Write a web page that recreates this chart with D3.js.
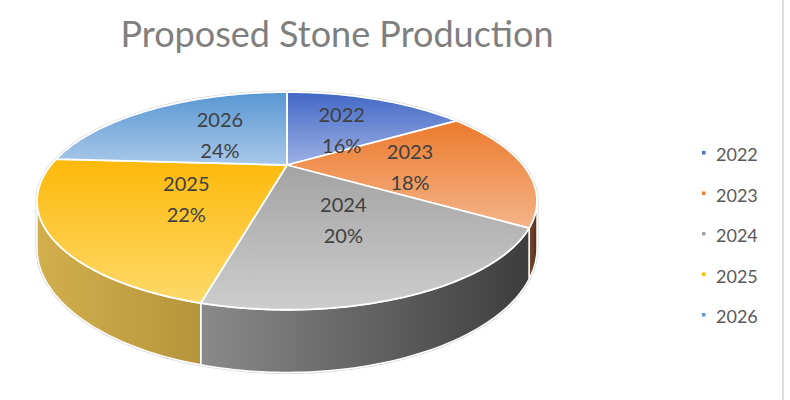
<!DOCTYPE html>
<html>
<head>
<meta charset="utf-8">
<script src="https://cdn.jsdelivr.net/npm/d3@7"></script>
<style>
  html, body { margin: 0; padding: 0; background: #fff; }
  svg { display: block; }
</style>
</head>
<body>
<div id="chart"></div>
<script>
// data
var years = ["2022", "2023", "2024", "2025", "2026"];
var shares = [16, 18, 20, 22, 24];
var chartTitle = "Proposed Stone Production";

// palette (top face gradient from / to, side colour from / to, legend marker)
var topFrom  = ["#4268c6", "#ec7a2c", "#a3a3a3", "#fdb90a", "#5897d3"];
var topTo    = ["#9db0e3", "#f4b489", "#cdcdcd", "#fdd96a", "#a9c8e9"];
var sideFrom = ["#3b5aa8", "#7a4a2c", "#8a8a8a", "#d2ae4c", "#4d82b5"];
var sideTo   = ["#2f4a8c", "#4e3020", "#3d3d3d", "#b6953b", "#3f6f9c"];
var marker   = ["#4472c4", "#ed7d31", "#a5a5a5", "#ffc000", "#5b9bd5"];

var W = 790, H = 400;

var svg = d3.select("#chart").append("svg")
    .attr("width", W)
    .attr("height", H);

var defs = svg.append("defs");

// right frame line
svg.append("line")
    .attr("x1", 783).attr("x2", 783)
    .attr("y1", 0).attr("y2", H)
    .attr("stroke", "#dcdcdc")
    .attr("stroke-width", 2);

// title
svg.append("text")
    .attr("x", 337)
    .attr("y", 47)
    .attr("text-anchor", "middle")
    .style("font-family", "Lato, 'Open Sans', sans-serif")
    .style("font-size", "36px")
    .style("fill", "#7f7f7f")
    .text(chartTitle);

// 3d projection of the pie disc
var cx = 287, cy = 165, rx = 236, ry = 97, persp = 0.33, depth = 42;
var xs = d3.scaleLinear().domain([-1, 1]).range([cx - rx, cx + rx]);
var ys = d3.scaleLinear().domain([-1, 1]).range([cy + ry, cy - ry]);

function proj(a, r, z) {
  var u = r * Math.sin(a), v = r * Math.cos(a), s = 1 / (1 + persp * v);
  return [xs(u * s), ys(v * s) + depth * s * z];
}

function arcPts(a0, a1, z) {
  var n = Math.max(2, Math.ceil(Math.abs(a1 - a0) / 0.02));
  return d3.range(n + 1).map(function(i) { return proj(a0 + (a1 - a0) * i / n, 1, z); });
}

var line = d3.line();

var pie = d3.pie().sort(null).value(function(d) { return d; });
var arcs = pie(shares);
var total = d3.sum(shares);
var pct = d3.format(".0%");

// visible part of the rim (front side)
var visA0 = Math.acos(-persp), visA1 = 2 * Math.PI - Math.acos(-persp);

arcs.forEach(function(d, i) {
  var gt = defs.append("linearGradient")
      .attr("id", "top" + i)
      .attr("x1", 0).attr("y1", 0).attr("x2", 0).attr("y2", 1);
  gt.append("stop").attr("offset", "0%").attr("stop-color", topFrom[i]);
  gt.append("stop").attr("offset", "100%").attr("stop-color", topTo[i]);

  var gs = defs.append("linearGradient")
      .attr("id", "side" + i)
      .attr("x1", 0).attr("y1", 0).attr("x2", 1).attr("y2", 0);
  gs.append("stop").attr("offset", "0%").attr("stop-color", sideFrom[i]);
  gs.append("stop").attr("offset", "100%").attr("stop-color", sideTo[i]);
});

var pieG = svg.append("g");

// outer silhouette outline
pieG.append("path")
    .attr("d", line(arcPts(visA0, visA1 - 2 * Math.PI, 0)
        .concat(arcPts(visA1, visA0, 1))) + "Z")
    .attr("fill", "none")
    .attr("stroke", "#d6d6d6")
    .attr("stroke-width", 3);

// sides
arcs.forEach(function(d, i) {
  var a0 = Math.max(d.startAngle, visA0), a1 = Math.min(d.endAngle, visA1);
  if (a1 <= a0) return;
  var pts = arcPts(a0, a1, 0).concat(arcPts(a1, a0, 1));
  pieG.append("path")
      .attr("d", line(pts) + "Z")
      .attr("fill", "url(#side" + i + ")")
      .attr("stroke", "#ffffff")
      .attr("stroke-width", 1.5)
      .attr("stroke-linejoin", "round");
});

// top faces
arcs.forEach(function(d, i) {
  var pts = [proj(0, 0, 0)].concat(arcPts(d.startAngle, d.endAngle, 0));
  pieG.append("path")
      .attr("d", line(pts) + "Z")
      .attr("fill", "url(#top" + i + ")")
      .attr("stroke", "#ffffff")
      .attr("stroke-width", 1.8)
      .attr("stroke-linejoin", "round");
});

// data labels
var lab = pieG.selectAll(".lab")
  .data(arcs)
  .enter().append("text")
    .attr("class", "lab")
    .attr("text-anchor", "middle")
    .style("font-family", "Lato, 'Open Sans', sans-serif")
    .style("font-size", "20px")
    .style("fill", "#404040")
    .attr("transform", function(d) {
      var p = proj((d.startAngle + d.endAngle) / 2, 0.5, 0);
      return "translate(" + (p[0] + 5) + "," + (p[1] + 2) + ")";
    });

lab.append("tspan")
    .attr("x", 0).attr("y", -8)
    .text(function(d, i) { return years[i]; });
lab.append("tspan")
    .attr("x", 0).attr("y", 23)
    .text(function(d) { return pct(d.data / total); });

// legend
var ly = d3.scalePoint().domain(years).range([155, 317]);
var leg = svg.selectAll(".leg")
  .data(years)
  .enter().append("g")
    .attr("class", "leg")
    .attr("transform", function(d) { return "translate(702," + ly(d) + ")"; });

leg.append("rect")
    .attr("x", 0).attr("y", -4)
    .attr("width", 3.5).attr("height", 3.5)
    .attr("fill", function(d, i) { return marker[i]; });

leg.append("text")
    .attr("x", 14)
    .attr("dy", "0.35em")
    .style("font-family", "Lato, 'Open Sans', sans-serif")
    .style("font-size", "18px")
    .style("fill", "#595959")
    .text(function(d) { return d; });
</script>
</body>
</html>
